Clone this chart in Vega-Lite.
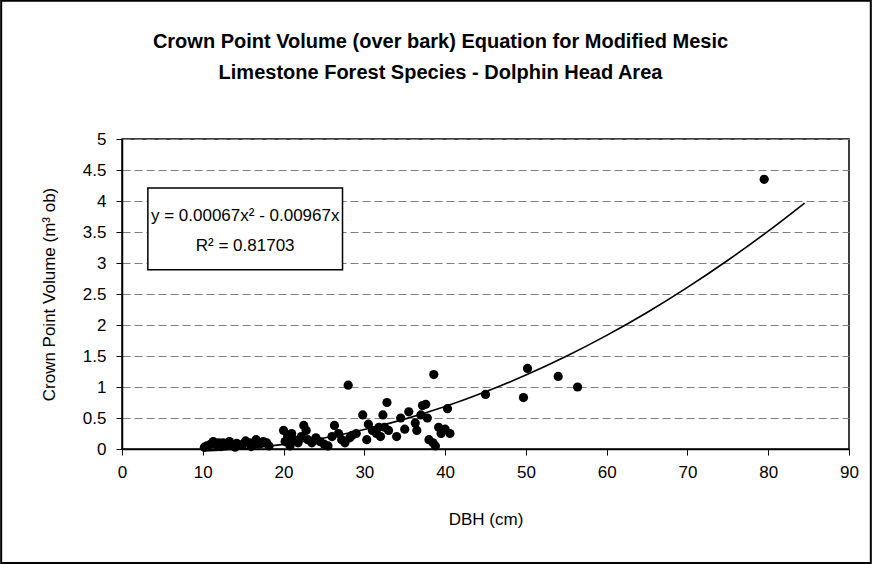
{
  "$schema": "https://vega.github.io/schema/vega-lite/v6.json",
  "autosize": {"type": "none"},
  "width": 727,
  "height": 310,
  "padding": {"left": 122, "top": 139, "right": 24, "bottom": 115},
  "background": "white",
  "config": {
    "font": "Liberation Sans",
    "view": {"stroke": "black", "strokeWidth": 1.5},
    "axis": {
      "labelFont": "Liberation Sans",
      "titleFont": "Liberation Sans",
      "labelFontSize": 17,
      "titleFontSize": 17,
      "titleFontWeight": "normal",
      "labelColor": "black",
      "titleColor": "black",
      "domainColor": "black",
      "domainWidth": 1.5,
      "tickColor": "black",
      "tickWidth": 1,
      "tickSize": 6,
      "labelOverlap": false,
      "labelFlush": false
    }
  },
  "title": {
    "text": ["Crown Point Volume (over bark) Equation for Modified Mesic", "Limestone Forest Species - Dolphin Head Area"],
    "font": "Liberation Sans",
    "fontSize": 20,
    "fontWeight": "bold",
    "color": "black",
    "lineHeight": 31,
    "anchor": "middle",
    "dx": -45,
    "offset": -83
  },
  "datasets": {
    "one": [{}],
    "trees": [
      {"dbh": 10.2, "vol": 0.03}, {"dbh": 10.5, "vol": 0.05}, {"dbh": 11.0, "vol": 0.08}, {"dbh": 11.3, "vol": 0.12},
      {"dbh": 11.8, "vol": 0.06}, {"dbh": 12.0, "vol": 0.1}, {"dbh": 12.2, "vol": 0.04}, {"dbh": 12.5, "vol": 0.1},
      {"dbh": 13.0, "vol": 0.07}, {"dbh": 13.3, "vol": 0.12}, {"dbh": 13.8, "vol": 0.05}, {"dbh": 14.0, "vol": 0.03},
      {"dbh": 14.2, "vol": 0.09}, {"dbh": 14.6, "vol": 0.06}, {"dbh": 15.0, "vol": 0.08}, {"dbh": 15.3, "vol": 0.13},
      {"dbh": 15.8, "vol": 0.1}, {"dbh": 16.0, "vol": 0.04}, {"dbh": 16.2, "vol": 0.06}, {"dbh": 16.6, "vol": 0.15},
      {"dbh": 17.0, "vol": 0.08}, {"dbh": 17.5, "vol": 0.12}, {"dbh": 17.9, "vol": 0.1}, {"dbh": 18.2, "vol": 0.05},
      {"dbh": 20.0, "vol": 0.3}, {"dbh": 20.2, "vol": 0.12}, {"dbh": 20.5, "vol": 0.2}, {"dbh": 20.8, "vol": 0.05},
      {"dbh": 21.0, "vol": 0.25}, {"dbh": 21.3, "vol": 0.15}, {"dbh": 21.8, "vol": 0.1}, {"dbh": 22.2, "vol": 0.2},
      {"dbh": 22.5, "vol": 0.38}, {"dbh": 22.8, "vol": 0.3}, {"dbh": 23.0, "vol": 0.15}, {"dbh": 23.5, "vol": 0.1},
      {"dbh": 24.0, "vol": 0.18}, {"dbh": 24.5, "vol": 0.12}, {"dbh": 25.0, "vol": 0.08}, {"dbh": 25.5, "vol": 0.05},
      {"dbh": 26.0, "vol": 0.2}, {"dbh": 26.3, "vol": 0.38}, {"dbh": 26.8, "vol": 0.25}, {"dbh": 27.2, "vol": 0.15},
      {"dbh": 27.6, "vol": 0.1}, {"dbh": 28.0, "vol": 1.03}, {"dbh": 28.2, "vol": 0.18}, {"dbh": 28.5, "vol": 0.22},
      {"dbh": 29.0, "vol": 0.25}, {"dbh": 29.8, "vol": 0.55}, {"dbh": 30.3, "vol": 0.15}, {"dbh": 30.5, "vol": 0.4},
      {"dbh": 31.0, "vol": 0.3}, {"dbh": 31.5, "vol": 0.25}, {"dbh": 31.8, "vol": 0.35}, {"dbh": 32.0, "vol": 0.2},
      {"dbh": 32.3, "vol": 0.55}, {"dbh": 32.5, "vol": 0.35}, {"dbh": 32.8, "vol": 0.75}, {"dbh": 33.0, "vol": 0.3},
      {"dbh": 34.0, "vol": 0.2}, {"dbh": 34.5, "vol": 0.5}, {"dbh": 35.0, "vol": 0.32}, {"dbh": 35.5, "vol": 0.6},
      {"dbh": 36.3, "vol": 0.42}, {"dbh": 36.5, "vol": 0.3}, {"dbh": 37.0, "vol": 0.55}, {"dbh": 37.2, "vol": 0.7},
      {"dbh": 37.6, "vol": 0.72}, {"dbh": 37.8, "vol": 0.5}, {"dbh": 38.0, "vol": 0.15}, {"dbh": 38.5, "vol": 0.1},
      {"dbh": 38.6, "vol": 1.2}, {"dbh": 38.8, "vol": 0.05}, {"dbh": 39.2, "vol": 0.35}, {"dbh": 39.5, "vol": 0.25},
      {"dbh": 40.0, "vol": 0.32}, {"dbh": 40.3, "vol": 0.65}, {"dbh": 40.6, "vol": 0.25},
      {"dbh": 45.0, "vol": 0.88}, {"dbh": 49.7, "vol": 0.83}, {"dbh": 50.2, "vol": 1.3}, {"dbh": 54.0, "vol": 1.17},
      {"dbh": 56.4, "vol": 1.0}, {"dbh": 79.5, "vol": 4.35}
    ],
    "trend": [
      {"dbh": 10, "vol": -0.03}, {"dbh": 15, "vol": 0.006}, {"dbh": 20, "vol": 0.075}, {"dbh": 25, "vol": 0.177},
      {"dbh": 30, "vol": 0.313}, {"dbh": 35, "vol": 0.482}, {"dbh": 40, "vol": 0.685}, {"dbh": 45, "vol": 0.922},
      {"dbh": 50, "vol": 1.192}, {"dbh": 55, "vol": 1.495}, {"dbh": 60, "vol": 1.832}, {"dbh": 65, "vol": 2.202},
      {"dbh": 70, "vol": 2.606}, {"dbh": 75, "vol": 3.044}, {"dbh": 80, "vol": 3.514}, {"dbh": 84.5, "vol": 3.967}
    ]
  },
  "layer": [
    {
      "data": {"name": "trees"},
      "mark": {"type": "point", "filled": true, "color": "black", "opacity": 1, "size": 85},
      "encoding": {
        "x": {
          "field": "dbh", "type": "quantitative",
          "scale": {"domain": [0, 90], "nice": false, "zero": false},
          "axis": {"title": "DBH (cm)", "values": [0, 10, 20, 30, 40, 50, 60, 70, 80, 90], "format": "d", "grid": false, "labelPadding": 9, "titlePadding": 31}
        },
        "y": {
          "field": "vol", "type": "quantitative",
          "scale": {"domain": [0, 5], "nice": false, "zero": false},
          "axis": {
            "title": "Crown Point Volume (m³ ob)",
            "values": [0, 0.5, 1, 1.5, 2, 2.5, 3, 3.5, 4, 4.5, 5],
            "tickCount": 11,
            "format": ".1~f",
            "grid": true, "gridColor": "#808080", "gridDash": [8, 4], "gridWidth": 1.2,
            "labelPadding": 10, "titlePadding": 24
          }
        }
      }
    },
    {
      "data": {"name": "trend"},
      "mark": {"type": "line", "color": "black", "strokeWidth": 1.6, "interpolate": "monotone"},
      "encoding": {
        "x": {"field": "dbh", "type": "quantitative"},
        "y": {"field": "vol", "type": "quantitative"}
      }
    },
    {
      "data": {"name": "one"},
      "mark": {"type": "rect", "fill": "white", "stroke": "black", "strokeWidth": 1.5},
      "encoding": {
        "x": {"datum": 3.2, "type": "quantitative"},
        "x2": {"datum": 27.3},
        "y": {"datum": 4.21, "type": "quantitative"},
        "y2": {"datum": 2.89}
      }
    },
    {
      "data": {"name": "one"},
      "mark": {"type": "text", "font": "Liberation Sans", "fontSize": 17, "color": "black", "align": "center", "baseline": "middle"},
      "encoding": {
        "x": {"datum": 15.25, "type": "quantitative"},
        "y": {"datum": 3.76, "type": "quantitative"},
        "text": {"value": "y = 0.00067x² - 0.00967x"}
      }
    },
    {
      "data": {"name": "one"},
      "mark": {"type": "text", "font": "Liberation Sans", "fontSize": 17, "color": "black", "align": "center", "baseline": "middle"},
      "encoding": {
        "x": {"datum": 15.25, "type": "quantitative"},
        "y": {"datum": 3.27, "type": "quantitative"},
        "text": {"value": "R² = 0.81703"}
      }
    },
    {
      "data": {"name": "one"},
      "mark": {"type": "rect", "fill": null, "fillOpacity": 0, "stroke": "black", "strokeWidth": 2, "clip": false},
      "encoding": {
        "x": {"datum": -14.96, "type": "quantitative"},
        "x2": {"datum": 92.7},
        "y": {"datum": 7.23, "type": "quantitative"},
        "y2": {"datum": -1.84}
      }
    }
  ]
}
